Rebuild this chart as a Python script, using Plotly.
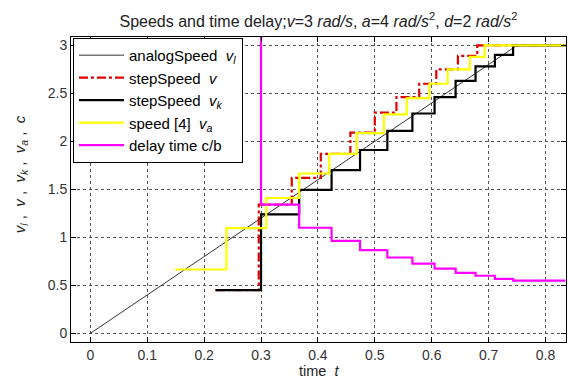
import plotly.graph_objects as go

# ---- data ----
analog_t = [0.0, 0.75, 0.835]
analog_v = [0.0, 3.0, 3.0]

red_t = [0.22, 0.296, 0.354, 0.405, 0.457, 0.500, 0.538, 0.578, 0.608, 0.646, 0.680, 0.835]
red_v = [0.45, 1.34, 1.62, 1.87, 2.09, 2.30, 2.46, 2.60, 2.75, 2.89, 3.0, 3.0]

black_t = [0.22, 0.300, 0.367, 0.424, 0.474, 0.522, 0.566, 0.605, 0.642, 0.677, 0.711, 0.743, 0.835]
black_v = [0.45, 1.24, 1.495, 1.70, 1.91, 2.11, 2.29, 2.46, 2.63, 2.78, 2.90, 3.0, 3.0]

yellow_t = [0.149, 0.239, 0.309, 0.367, 0.420, 0.468, 0.516, 0.556, 0.596, 0.628, 0.667, 0.693, 0.835]
yellow_v = [0.665, 1.096, 1.41, 1.665, 1.87, 2.085, 2.28, 2.45, 2.60, 2.75, 2.88, 3.0, 3.0]

delay_t = [0.300, 0.300, 0.367, 0.424, 0.474, 0.522, 0.566, 0.605, 0.642, 0.677, 0.711, 0.743, 0.835]
delay_v = [5.0, 1.34, 1.10, 0.963, 0.867, 0.79, 0.727, 0.675, 0.63, 0.60, 0.568, 0.55, 0.55]

x_ticks = [0, 0.1, 0.2, 0.3, 0.4, 0.5, 0.6, 0.7, 0.8]
x_tick_labels = ["0", "0.1", "0.2", "0.3", "0.4", "0.5", "0.6", "0.7", "0.8"]
y_ticks = [0, 0.5, 1, 1.5, 2, 2.5, 3]
y_tick_labels = ["0", "0.5", "1", "1.5", "2", "2.5", "3"]

FONT = "Liberation Sans, Arial, sans-serif"

fig = go.Figure()
fig.add_trace(go.Scatter(x=analog_t, y=analog_v, mode="lines",
                         name="analogSpeed  <i>v</i><sub><i>l</i></sub>",
                         line=dict(color="black", width=0.8)))
fig.add_trace(go.Scatter(x=red_t, y=red_v, mode="lines", line_shape="hv",
                         name="stepSpeed  <i>v</i>",
                         line=dict(color="#e00000", width=2.2, dash="dashdot")))
fig.add_trace(go.Scatter(x=black_t, y=black_v, mode="lines", line_shape="hv",
                         name="stepSpeed  <i>v</i><sub><i>k</i></sub>",
                         line=dict(color="black", width=2.2)))
fig.add_trace(go.Scatter(x=yellow_t, y=yellow_v, mode="lines", line_shape="hv",
                         name="speed [4]  <i>v</i><sub><i>a</i></sub>",
                         line=dict(color="#ffff00", width=2.2)))
fig.add_trace(go.Scatter(x=delay_t, y=delay_v, mode="lines", line_shape="hv",
                         name="delay time c/b",
                         line=dict(color="#ff00ff", width=2.2)))

axis_common = dict(
    showline=True, linecolor="black", linewidth=1, mirror="ticks",
    ticks="inside", ticklen=5, tickcolor="black",
    showgrid=True, gridcolor="#555", griddash="dot", gridwidth=1,
    zeroline=False,
    tickfont=dict(family=FONT, size=14, color="#333"),
)

fig.update_layout(
    width=568, height=380,
    margin=dict(l=71, r=2, t=37, b=38),
    paper_bgcolor="white", plot_bgcolor="white",
    font=dict(family=FONT, size=15, color="black"),
    title=dict(
        text="Speeds and time delay;<i>v</i>=3 <i>rad/s</i>, <i>a</i>=4 <i>rad/s</i><sup>2</sup>, <i>d</i>=2 <i>rad/s</i><sup>2</sup>",
        x=0.5, xref="paper", xanchor="center", y=0.945, yanchor="middle",
        font=dict(family=FONT, size=16, color="#222"),
    ),
    xaxis=dict(range=[-0.034, 0.836], tickvals=x_ticks, ticktext=x_tick_labels,
               **axis_common),
    yaxis=dict(range=[-0.09, 3.087], tickvals=y_ticks, ticktext=y_tick_labels,
               **axis_common),
    legend=dict(x=0.004, y=0.997, xanchor="left", yanchor="top",
                bgcolor="white", bordercolor="black", borderwidth=1,
                font=dict(family=FONT, size=15, color="black"),
                itemwidth=45, tracegroupgap=0),
    showlegend=True,
)

# axis titles as annotations for exact placement
fig.add_annotation(text="time  <i>t</i>", xref="paper", yref="paper",
                   x=0.5, y=0, xanchor="center", yanchor="bottom", yshift=-38,
                   borderpad=0,
                   showarrow=False, font=dict(family=FONT, size=14.5, color="#222"))
fig.add_annotation(text="<i>v</i><sub><i>l</i></sub> ,  <i>v</i> ,  <i>v</i><sub><i>k</i></sub> ,  <i>v</i><sub><i>a</i></sub> ,  <i>c</i>",
                   xref="paper", yref="paper", x=0, y=0.55,
                   xanchor="center", yanchor="middle", xshift=-51, textangle=-90,
                   showarrow=False, font=dict(family=FONT, size=15, color="#222"))

fig.write_html("out.html")
